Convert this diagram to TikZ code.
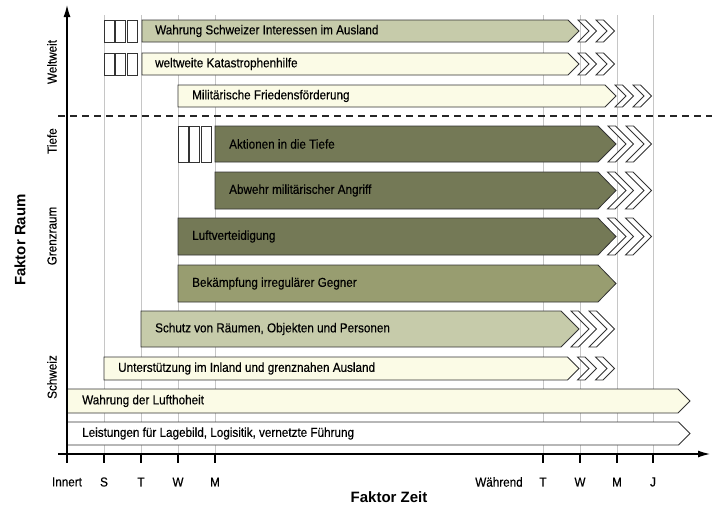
\documentclass[tikz,border=0pt]{standalone}
\usepackage{fontspec}
\setmainfont{Liberation Sans}[FakeStretch=0.9,FakeBold=0.35]
\newfontfamily\titlefont{Liberation Sans}
\usetikzlibrary{arrows.meta}
\definecolor{oliveDark}{RGB}{116,121,86}
\definecolor{oliveMid}{RGB}{152,157,112}
\definecolor{oliveLight}{RGB}{198,203,170}
\definecolor{creamLight}{RGB}{251,251,230}
\begin{document}
\begin{tikzpicture}[x=1pt,y=-1pt,
	bar line/.style={draw=black!80,line width=0.8pt},
	grid line/.style={gray!45,line width=0.4pt},
	label text/.style={font=\fontsize{13}{15}\selectfont,anchor=west,inner sep=0pt},
	axis text/.style={font=\fontsize{13}{15}\selectfont,inner sep=0pt},
	title text/.style={font=\titlefont\bfseries\fontsize{15}{17}\selectfont,inner sep=0pt}]
		\useasboundingbox (0,0) rectangle (718,509);
		\foreach \gx in {104,141,178,215,543,580,617,653}
			\draw[grid line] (\gx,15) -- (\gx,454); %time lines
		\draw[bar line,fill=oliveLight] (142,20) -- (568,20) -- (579,31) -- (568,42) -- (142,42) -- cycle; %Interessen
		\draw[bar line,fill=creamLight] (142,53) -- (568,53) -- (579,64) -- (568,75) -- (142,75) -- cycle; %Katastrophenhilfe
		\draw[bar line,fill=creamLight] (178,85) -- (605,85) -- (616,96) -- (605,107) -- (178,107) -- cycle; %Friedensfoerderung
		\draw[bar line,fill=oliveDark] (215,126) -- (598,126) -- (616,144) -- (598,162) -- (215,162) -- cycle; %Tiefe
		\draw[bar line,fill=oliveDark] (215,172) -- (598,172) -- (616,190.5) -- (598,209) -- (215,209) -- cycle; %Abwehr
		\draw[bar line,fill=oliveDark] (178,218) -- (598,218) -- (616,236.5) -- (598,255) -- (178,255) -- cycle; %Luftverteidigung
		\draw[bar line,fill=oliveMid] (178,265) -- (598,265) -- (616,283.5) -- (598,302) -- (178,302) -- cycle; %Gegner
		\draw[bar line,fill=oliveLight] (141,311) -- (561,311) -- (579,329) -- (561,347) -- (141,347) -- cycle; %Schutz
		\draw[bar line,fill=creamLight] (104,357) -- (567.5,357) -- (579,368.5) -- (567.5,380) -- (104,380) -- cycle; %Unterstuetzung
		\draw[bar line,fill=creamLight] (67,389) -- (678,389) -- (690,401) -- (678,413) -- (67,413) -- cycle; %Lufthoheit
		\draw[bar line,fill=white] (67,422) -- (678.5,422) -- (690,433.5) -- (678.5,445) -- (67,445) -- cycle; %Leistungen
		\foreach \t/\b/\X in {20/42/579,53/75/579,85/107/616,126/162/616,172/209/616,218/255/616,311/347/579,357/380/579}
			\foreach \k in {0,18}
				\draw[bar line,line width=0.75pt,fill=white] ({\X-(\b-\t)/2+10+\k},\t) -- ++(7.5,0) -- ++({(\b-\t)/2},{(\b-\t)/2}) -- ++({-(\b-\t)/2},{(\b-\t)/2}) -- ++(-7.5,0) -- ++({(\b-\t)/2},{-(\b-\t)/2}) -- cycle; %chevrons
		\foreach \s/\t/\b in {104/20/42,104/53/75,178/126/162}
			\foreach \k in {0,11.5,23}
				\draw[bar line,line width=0.7pt,fill=white] (\s+\k,\t) rectangle (\s+\k+10,\b); %small boxes
		\node[label text] (interessen) at (155,31) {Wahrung Schweizer Interessen im Ausland};
		\node[label text] (katastrophen) at (155,64) {weltweite Katastrophenhilfe};
		\node[label text] (frieden) at (192,96) {Militärische Friedensförderung};
		\node[label text] (tiefe) at (229,144) {Aktionen in die Tiefe};
		\node[label text] (abwehr) at (229,190.5) {Abwehr militärischer Angriff};
		\node[label text] (luft) at (192,236.5) {Luftverteidigung};
		\node[label text] (gegner) at (192,283.5) {Bekämpfung irregulärer Gegner};
		\node[label text] (schutz) at (155,329) {Schutz von Räumen, Objekten und Personen};
		\node[label text] (inland) at (118,368.5) {Unterstützung im Inland und grenznahen Ausland};
		\node[label text] (hoheit) at (82,401) {Wahrung der Lufthoheit};
		\node[label text] (lage) at (82,433.5) {Leistungen für Lagebild, Logisitik, vernetzte Führung};
		\draw[line width=1.3pt,dash pattern=on 7pt off 5pt,black!85] (58,116) -- (712,116); %border line
		\draw[line width=1.2pt,-{Latex[length=12pt,width=7pt]}] (67,454) -- (67,5); %space axis
		\draw[line width=1.2pt,-{Latex[length=12pt,width=7pt]}] (58,454) -- (710,454); %time axis
		\foreach \gx/\lab [count=\i] in {67/Innert,104/S,141/T,178/W,215/M,543/T,580/W,617/M,653/J}{
			\draw[line width=1.2pt] (\gx,454) -- (\gx,463); %tick
			\node[axis text] (tick\i) at (\gx,482) {\lab};}
		\node[axis text] (waehrend) at (499,482) {Während};
		\node[axis text,rotate=90] (weltweit) at (52,62) {Weltweit};
		\node[axis text,rotate=90] (tiefeaxis) at (52,141) {Tiefe};
		\node[axis text,rotate=90] (grenzraum) at (52,236) {Grenzraum};
		\node[axis text,rotate=90] (schweiz) at (52,377) {Schweiz};
		\node[title text,rotate=90] (raum) at (20,240) {Faktor Raum};
		\node[title text] (zeit) at (389,497) {Faktor Zeit};
\end{tikzpicture}
\end{document}
